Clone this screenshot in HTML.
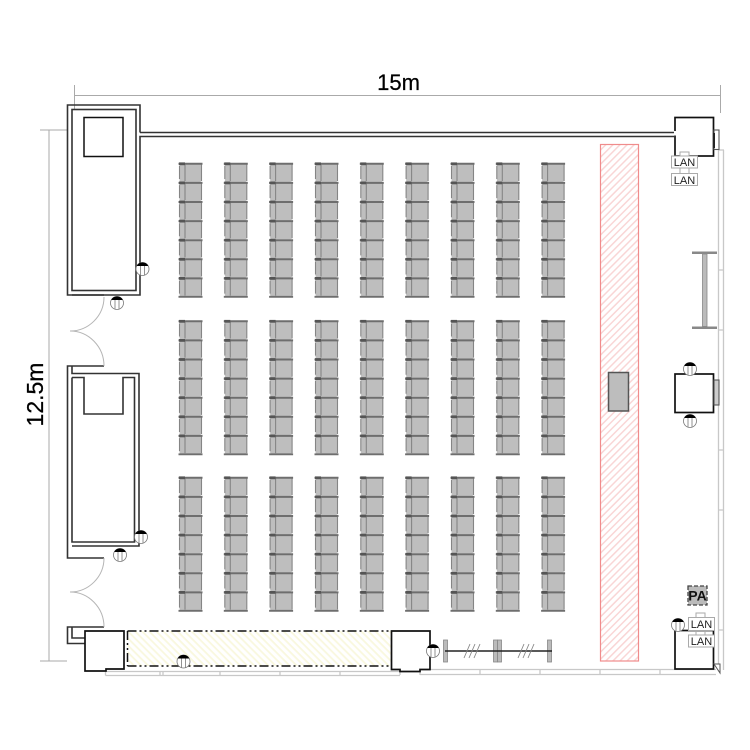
<!DOCTYPE html>
<html><head><meta charset="utf-8"><style>html,body{margin:0;padding:0;background:#fff}svg{display:block}</style></head>
<body>
<svg width="750" height="750" viewBox="0 0 750 750" xmlns="http://www.w3.org/2000/svg" font-family="'Liberation Sans',sans-serif">
<defs>
<pattern id="red" width="5" height="5" patternUnits="userSpaceOnUse" patternTransform="rotate(-45)"><rect width="5" height="5" fill="#fff"/><rect width="5" height="1.500" fill="#f9d6d6"/></pattern>
<pattern id="yel" width="5" height="5" patternUnits="userSpaceOnUse" patternTransform="rotate(45)"><rect width="5" height="5" fill="#fff"/><rect width="5" height="1.800" fill="#f9f8de"/></pattern>
<g id="c">
<rect x="179.500" y="163.500" width="22" height="18.500" rx="2" fill="#bebebe"/>
<path d="M185 164V181M179.500 166V179M201.500 164V181" stroke="#858585" stroke-width="1.100" fill="none"/>
<path d="M178.500 163.800H202.500" stroke="#6e6e6e" stroke-width="2"/>
<path d="M179 163.800H185" stroke="#555" stroke-width="2.800"/>
</g>
<g id="col"><use href="#c"/><use href="#c" y="19.100"/><use href="#c" y="38.200"/><use href="#c" y="57.300"/><use href="#c" y="76.400"/><use href="#c" y="95.500"/><use href="#c" y="114.600"/><path d="M178.500 296.800H202.500" stroke="#6e6e6e" stroke-width="1.800"/></g>
<g id="blk"><use href="#col"/><use href="#col" x="45.300"/><use href="#col" x="90.600"/><use href="#col" x="136"/><use href="#col" x="181.300"/><use href="#col" x="226.600"/><use href="#col" x="272"/><use href="#col" x="317.300"/><use href="#col" x="362.600"/></g>
<g id="o"><circle r="6.500" fill="#fff" stroke="#777" stroke-width=".8"/><path d="M-5.800 -3A6.500 6.500 0 0 1 5.800 -3Z" fill="#000"/><path d="M-2 -3V6M2 -3V6" stroke="#777" stroke-width=".8"/></g>
</defs>

<!-- dimensions -->
<path d="M74.500 95.500H720M720.500 85V113M74.500 85V110M49 130V661M40 130H67M40 661H67" stroke="#aaa" stroke-width="1" fill="none"/>
<text x="398.500" y="90" font-size="22" text-anchor="middle" fill="#000" stroke="#000" stroke-width=".25">15m</text>
<text transform="translate(43,394.500) rotate(-90)" font-size="23" text-anchor="middle" fill="#000" stroke="#000" stroke-width=".25">12.5m</text>

<!-- chairs -->
<use href="#blk"/><use href="#blk" y="157.500"/><use href="#blk" y="314"/>

<!-- stage -->
<rect x="600.500" y="144.500" width="38" height="516.500" fill="url(#red)" stroke="#f08c8c" stroke-width="1.200"/>
<rect x="608.500" y="372.500" width="20" height="38.500" fill="#bdbdbd" stroke="#555" stroke-width="1.500"/>

<!-- yellow area -->
<rect x="127.500" y="631" width="264" height="35" fill="url(#yel)"/>
<path d="M127.500 631H391.500M127.500 666H391.500M127.500 631V666" stroke="#111" stroke-width="1.500" stroke-dasharray="9 3 2 3 2 3" fill="none"/>

<!-- walls -->
<g fill="none" stroke="#333" stroke-width="1.600">
<path d="M140 132.500V105H67.500V295H140V136.500H674M140 132.500H674" />
<rect x="72" y="109.500" width="64" height="181"/>
<path d="M72 295H104"/>
<path d="M104 366H67.500V558H104M72 366V373.500H139V546H72M72 377.500H84V414H123V377.500H134.500V542H72V377.500"/>
<path d="M104 627H67.500V643.500H85M72 627V638H85"/>
</g>
<rect x="84" y="117.500" width="39" height="39" fill="#fff" stroke="#111" stroke-width="1.500"/>
<!-- doors -->
<g fill="none" stroke="#b5b5b5" stroke-width="1">
<path d="M104 297A34 34 0 0 1 70 331M104 366A34 35 0 0 0 70 331M104 558A34 34 0 0 1 70 592M104 627A34 35 0 0 0 70 592"/>
</g>

<!-- outer gray walls -->
<g fill="none" stroke="#c8c8c8" stroke-width="1.300">
<path d="M105.500 671.500H400M105.500 675.500H400M105.500 671.500V675.500M160 671V675M163 671V675M220 671V675M280 671V675M340 671V675M400 671V675"/>
<path d="M420 669.500H716M420 674.500H716M420 669V675M480 669V675M540 669V675M600 669V675M660 669V675"/>
<path d="M718.500 150V670M723.500 150V670M718 150H724M718 270H724M718 330H724M718 450H724M718 510H724M718 630H724"/>
</g>

<!-- boxes -->
<g fill="#fff" stroke="#111" stroke-width="1.700">
<path d="M85 631H124V669H106V671H85Z"/>
<path d="M391.500 631H430V669.500H420V671.500H400V669.500H391.500Z"/>
<rect x="675" y="117.500" width="38.500" height="38.500"/>
<rect x="675" y="374" width="38.500" height="38.500"/>
<rect x="675" y="630.500" width="38.500" height="38.500"/>
</g>
<rect x="674" y="131" width="2" height="4.500" fill="#fff"/>
<rect x="714" y="130" width="5" height="19.500" fill="#fff" stroke="#555" stroke-width="1.100"/>
<path d="M714 133V148" stroke="#222" stroke-width="2"/>
<rect x="714" y="380" width="5" height="25" fill="#ccc" stroke="#555" stroke-width="1.100"/>
<path d="M714 664H720V673Z" fill="#fff" stroke="#555" stroke-width="1"/>

<!-- screen -->
<rect x="692" y="251.500" width="25" height="2.500" fill="#888"/>
<rect x="692" y="326.500" width="25" height="2.500" fill="#888"/>
<rect x="702.500" y="254" width="4.500" height="72.500" fill="#bbb" stroke="#888" stroke-width=".8"/>

<!-- bars -->
<g fill="#bbb" stroke="#888" stroke-width=".8">
<rect x="443.500" y="640" width="4" height="22"/><rect x="493.500" y="640" width="4" height="22"/><rect x="497.500" y="640" width="4" height="22"/><rect x="547.500" y="640" width="4" height="22"/>
</g>
<path d="M445 651H552" stroke="#222" stroke-width="1.500"/>
<path d="M464 658L470 644M469 658L475 644M474 658L480 644M518 658L524 644M523 658L529 644M528 658L534 644" stroke="#888" stroke-width=".9"/>

<!-- outlets -->
<use href="#o" x="142.500" y="269"/><use href="#o" x="117" y="303"/><use href="#o" x="141" y="537"/><use href="#o" x="120" y="555"/><use href="#o" x="183.500" y="661.500"/><use href="#o" x="433" y="651"/><use href="#o" x="690" y="369"/><use href="#o" x="690" y="421"/><use href="#o" x="678" y="625"/>

<!-- LAN -->
<g fill="#fff" stroke="#aaa" stroke-width="1">
<path d="M680 156V152H689V156"/><path d="M680 168V173M689 168V173"/>
<rect x="671.500" y="156" width="26" height="12"/><rect x="671.500" y="173.500" width="26" height="12"/>
<path d="M696 617V613H705V617"/><path d="M696 630V635M705 630V635"/>
<rect x="688.500" y="617.500" width="26" height="13"/><rect x="688.500" y="635" width="26" height="12"/>
</g>
<g font-size="11" fill="#222" text-anchor="middle">
<text x="684.500" y="166">LAN</text><text x="684.500" y="184">LAN</text><text x="701.500" y="628">LAN</text><text x="701.500" y="645">LAN</text>
</g>
<rect x="688" y="586" width="19" height="19" fill="#bbb" stroke="#444" stroke-width="1.300" stroke-dasharray="4 2"/>
<text x="697.500" y="600.500" font-size="14" font-weight="bold" text-anchor="middle" fill="#111">PA</text>
</svg>
</body></html>
